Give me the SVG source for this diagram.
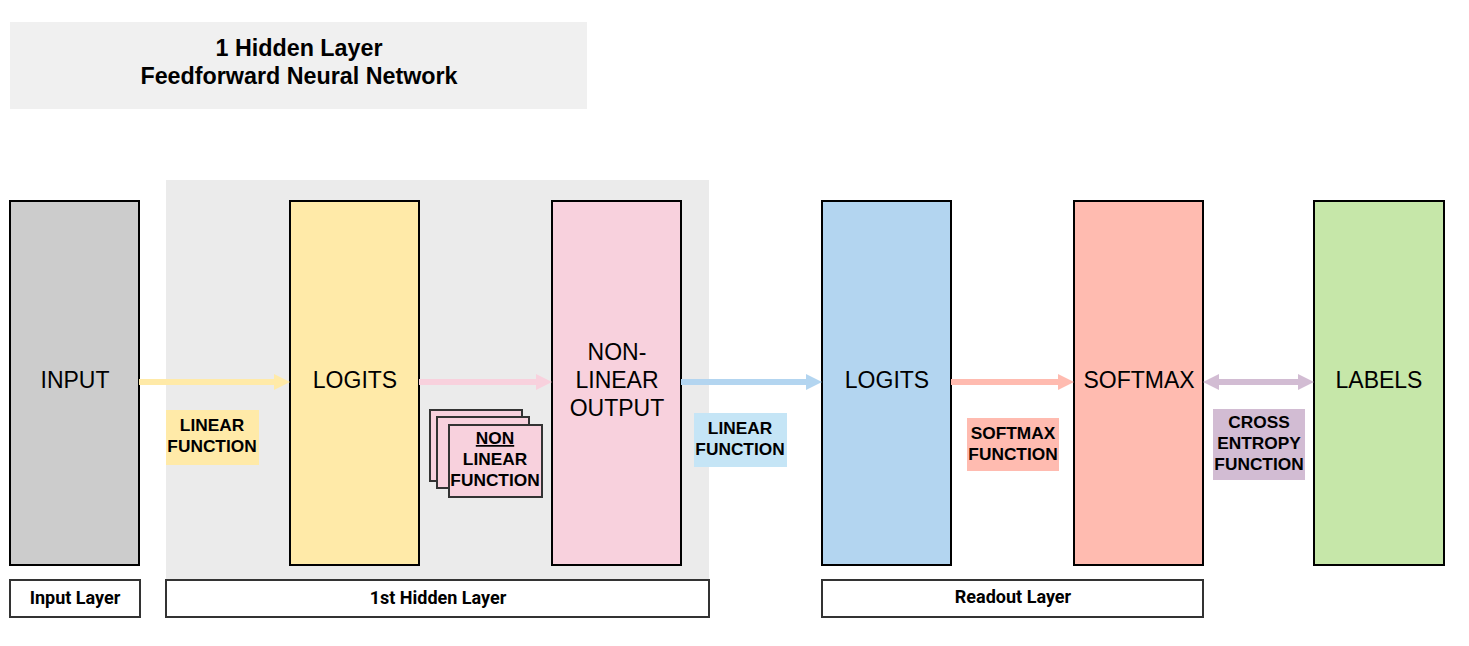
<svg xmlns="http://www.w3.org/2000/svg" width="1469" height="646" viewBox="0 0 1469 646">
<style>
.node{stroke:#000;stroke-width:2}
.nt{font-family:"Liberation Sans",Arial,sans-serif;font-size:23px;fill:#000;text-anchor:middle}
.lt{font-family:"Liberation Sans",Arial,sans-serif;font-size:17.3px;font-weight:bold;fill:#000;text-anchor:middle}
.bt{font-family:Roboto,"Liberation Sans",sans-serif;font-size:18px;font-weight:bold;fill:#000;text-anchor:middle}
.lbox{fill:#fff;stroke:#333;stroke-width:2}
.tt{font-family:"Liberation Sans",Arial,sans-serif;font-size:23.3px;font-weight:bold;fill:#000;text-anchor:middle}
</style>
<rect width="1469" height="646" fill="#fff"/>
<g id="title">
<rect x="10" y="22" width="577" height="87" fill="#f0f0f0"/>
<text class="tt" x="299" y="56">1 Hidden Layer</text>
<text class="tt" x="299" y="84">Feedforward Neural Network</text>
</g>
<g id="hidden-panel"><rect x="166" y="180" width="543" height="400" fill="#ebebeb"/></g>
<g id="input"><rect class="node" x="10" y="201" width="129" height="364" fill="#cccccc"/><text class="nt" x="75" y="388">INPUT</text></g>
<g id="logits1"><rect class="node" x="290" y="201" width="129" height="364" fill="#ffeaa8"/><text class="nt" x="355" y="388">LOGITS</text></g>
<g id="nonlinear"><rect class="node" x="552" y="201" width="129" height="364" fill="#f8d1dd"/><text class="nt" x="617" y="360">NON-</text><text class="nt" x="617" y="388">LINEAR</text><text class="nt" x="617" y="416">OUTPUT</text></g>
<g id="logits2"><rect class="node" x="822" y="201" width="129" height="364" fill="#b3d5f0"/><text class="nt" x="887" y="388">LOGITS</text></g>
<g id="softmax"><rect class="node" x="1074" y="201" width="129" height="364" fill="#ffbbb0"/><text class="nt" x="1139" y="388">SOFTMAX</text></g>
<g id="labels"><rect class="node" x="1314" y="201" width="130" height="364" fill="#c6e7a9"/><text class="nt" x="1379" y="388">LABELS</text></g>
<g id="connectors">
<path d="M139 382H276" stroke="#ffeaa8" stroke-width="6"/><path d="M274 374L290 382L274 390Z" fill="#ffeaa8"/>
<path d="M419 382H538" stroke="#f8d1dd" stroke-width="6"/><path d="M536 374L552 382L536 390Z" fill="#f8d1dd"/>
<path d="M681 382H808" stroke="#b3d5f0" stroke-width="6"/><path d="M806 374L822 382L806 390Z" fill="#b3d5f0"/>
<path d="M951 382H1060" stroke="#ffbbb0" stroke-width="6"/><path d="M1058 374L1074 382L1058 390Z" fill="#ffbbb0"/>
<path d="M1217 382H1300" stroke="#d2bcd3" stroke-width="6"/><path d="M1219 374L1203 382L1219 390Z" fill="#d2bcd3"/><path d="M1298 374L1314 382L1298 390Z" fill="#d2bcd3"/>
</g>
<g id="linear-function-1"><rect x="166" y="410" width="93" height="55" fill="#ffeaa8"/><text class="lt" x="212" y="431">LINEAR</text><text class="lt" x="212" y="452">FUNCTION</text></g>
<g id="nonlinear-function">
<rect x="430" y="410" width="92" height="71" fill="#f8d1dd" stroke="#333" stroke-width="2"/>
<rect x="437" y="417" width="92" height="71" fill="#f8d1dd" stroke="#333" stroke-width="2"/>
<rect x="449" y="425" width="93" height="72" fill="#f8d1dd" stroke="#333" stroke-width="2"/>
<text class="lt" x="495" y="444" text-decoration="underline">NON</text>
<text class="lt" x="495" y="465">LINEAR</text>
<text class="lt" x="495" y="486">FUNCTION</text>
</g>
<g id="linear-function-2"><rect x="694" y="413" width="93" height="54" fill="#c5e5f6"/><text class="lt" x="740" y="434">LINEAR</text><text class="lt" x="740" y="455">FUNCTION</text></g>
<g id="softmax-function"><rect x="967" y="418" width="92" height="53" fill="#ffbbb0"/><text class="lt" x="1013" y="439">SOFTMAX</text><text class="lt" x="1013" y="460">FUNCTION</text></g>
<g id="cross-entropy"><rect x="1213" y="409" width="92" height="71" fill="#d2bcd3"/><text class="lt" x="1259" y="428">CROSS</text><text class="lt" x="1259" y="449">ENTROPY</text><text class="lt" x="1259" y="470">FUNCTION</text></g>
<g id="input-layer"><rect class="lbox" x="10" y="580" width="130" height="37"/><text class="bt" x="75" y="604">Input Layer</text></g>
<g id="hidden-layer"><rect class="lbox" x="166" y="580" width="543" height="37"/><text class="bt" x="438" y="604">1st Hidden Layer</text></g>
<g id="readout-layer"><rect class="lbox" x="822" y="580" width="381" height="37"/><text class="bt" x="1013" y="603">Readout Layer</text></g>
</svg>
